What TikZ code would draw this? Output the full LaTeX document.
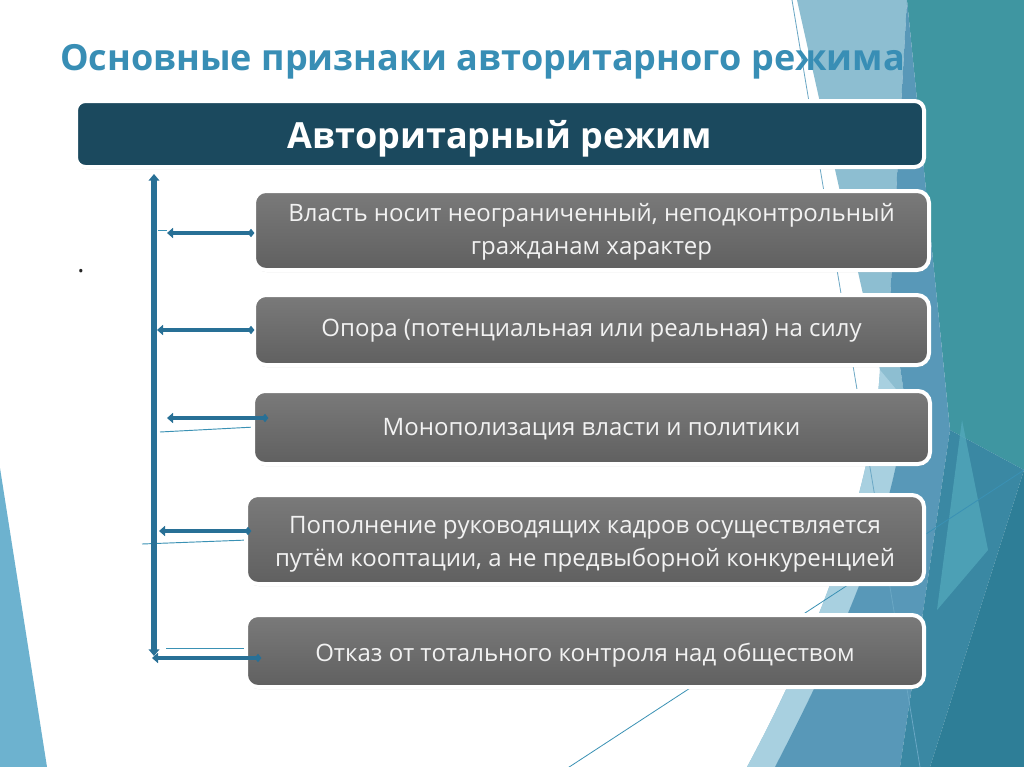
\documentclass[tikz,border=0pt]{standalone}
\usepackage{fontspec}
\setmainfont{Open Sans}
\usetikzlibrary{arrows.meta,shadows,calc}
\definecolor{ttlblue}{RGB}{56,142,181}
\definecolor{hdrfill}{RGB}{27,73,94}
\definecolor{connblue}{RGB}{40,112,150}
\definecolor{boxtop}{RGB}{122,122,122}
\definecolor{boxbot}{RGB}{96,96,96}
\definecolor{boxtxt}{RGB}{242,242,242}
\definecolor{bglight}{RGB}{141,190,209}
\definecolor{bgpale}{RGB}{168,208,224}
\definecolor{bgmed}{RGB}{88,152,184}
\definecolor{bgmid}{RGB}{58,136,163}
\definecolor{bgteal}{RGB}{63,150,161}
\definecolor{bgdark}{RGB}{46,126,151}
\definecolor{bgcyan}{RGB}{85,171,190}
\definecolor{bgleft}{RGB}{109,178,207}
\definecolor{decoblue}{RGB}{58,145,180}
\definecolor{decolight}{RGB}{106,167,196}
\begin{document}
\begin{tikzpicture}[x=0.75pt,y=-0.75pt,
  glow/.style={drop shadow={shadow xshift=0.4pt,shadow yshift=-1.5pt,opacity=0.3,fill=black!70}},
  gbox/.style={draw=white, line width=3pt, rounded corners=9pt, top color=boxtop, bottom color=boxbot,
    text=boxtxt, font=\fontsize{18}{25}\selectfont, align=center, inner sep=0pt, glow},
  hbox/.style={draw=white, line width=3pt, rounded corners=7pt, fill=hdrfill, text=white,
    font=\bfseries\fontsize{27}{32}\selectfont, inner sep=0pt, glow},
  conn/.style={draw=connblue, line width=3.5pt, {Triangle[width=7.5pt,length=4.5pt]}-{Circle[length=4.5pt,width=5pt]}},
  vconn/.style={draw=connblue, line width=3.8pt, {Triangle[width=8pt,length=5pt]}-{Triangle[width=8pt,length=5pt]}},
  decoline/.style={draw=decoblue, line width=0.7pt}]
\useasboundingbox (0,0) rectangle (1024,767);
\clip (0,0) rectangle (1024,767);
\fill[white] (0,0) rectangle (1024,767);
% background decoration
\fill[bgleft] (0,468) -- (47,767) -- (0,767) -- cycle;
\fill[bgteal] (907,0) -- (1024,0) -- (1024,470) -- (950,430) -- cycle;
\fill[bglight] (797,0) -- (907,0) -- (890,300) -- (905,400) .. controls (898,520) and (830,660) .. (775,767)
  -- (747,767) .. controls (810,650) and (872,500) .. (880,370) -- cycle;
\fill[bgpale] (880,370) -- (905,400) .. controls (898,520) and (830,660) .. (775,767)
  -- (747,767) .. controls (810,650) and (872,500) .. (880,370) -- cycle;
\fill[bgmed] (907,0) -- (950,430) -- (900,767) -- (775,767) .. controls (830,660) and (898,520) .. (905,400) -- (890,300) -- cycle;
\fill[bgmid] (950,430) -- (1024,470) -- (930,767) -- (900,767) -- cycle;
\fill[bgdark] (1024,470) -- (1024,767) -- (930,767) -- cycle;
\fill[bgcyan, opacity=0.7] (962,420) -- (988,550) -- (937,610) -- cycle;
\draw[draw=decolight, line width=0.6pt] (792,0) -- (920,767);
\draw[draw=decoblue, line width=0.6pt] (560,773) -- (1024,470);
% thin lines near connectors
\draw[decoline] (158,230.5) -- (167,230.5);
\draw[decoline] (160,432) -- (255,427);
\draw[decoline] (142,544) -- (248,540);
\draw[decoline] (166,648) -- (255,648);
% title
\node[anchor=base west, inner sep=0pt, text=ttlblue, font=\bfseries\fontsize{27}{30}\selectfont] (ttl) at (60,70) {Основные признаки авторитарного режима};
\node[font=\fontsize{20}{20}\selectfont, text=black!85, inner sep=0pt, anchor=base] (dot) at (81,272) {.};
% boxes
\node[hbox, minimum width=636pt, minimum height=49.5pt, text height=23pt, text depth=2pt] (hdr) at (500,134) {Авторитарный режим};
\node[gbox, minimum width=506.25pt, minimum height=59.25pt, text height=38pt, text depth=2pt] (b1) at (591.5,230.5) {Власть носит неограниченный, неподконтрольный\\гражданам характер};
\node[gbox, minimum width=506.25pt, minimum height=52.5pt, text height=12pt, text depth=2pt] (b2) at (591.5,330) {Опора (потенциальная или реальная) на силу};
\node[gbox, minimum width=507.75pt, minimum height=54.75pt, text height=14pt, text depth=2pt] (b3) at (591.5,427.5) {Монополизация власти и политики};
\node[gbox, minimum width=508.5pt, minimum height=66.75pt, text height=42.5pt, text depth=2pt] (b4) at (585,539.5) {Пополнение руководящих кадров осуществляется\\путём кооптации, а не предвыборной конкуренцией};
\node[gbox, minimum width=508.5pt, minimum height=54pt, text height=18pt, text depth=2pt] (b5) at (585,651) {Отказ от тотального контроля над обществом};
% connectors
\coordinate (vb) at (154,656);
\draw[vconn] (vb) -- ($(vb |- hdr.south)+(0,5)$);
\coordinate (c1) at (167,233);
\coordinate (c2) at (157,330);
\coordinate (c3) at (167,418);
\coordinate (c4) at (159,531);
\coordinate (c5) at (152,658);
\draw[conn] (c1) -- ($(c1 -| b1.west)+(2,0)$);
\draw[conn] (c2) -- ($(c2 -| b2.west)+(2,0)$);
\draw[conn] (c3) -- ($(c3 -| b3.west)+(17,0)$);
\draw[conn] (c4) -- ($(c4 -| b4.west)+(7,0)$);
\draw[conn] (c5) -- ($(c5 -| b5.west)+(17,0)$);
\end{tikzpicture}
\end{document}
